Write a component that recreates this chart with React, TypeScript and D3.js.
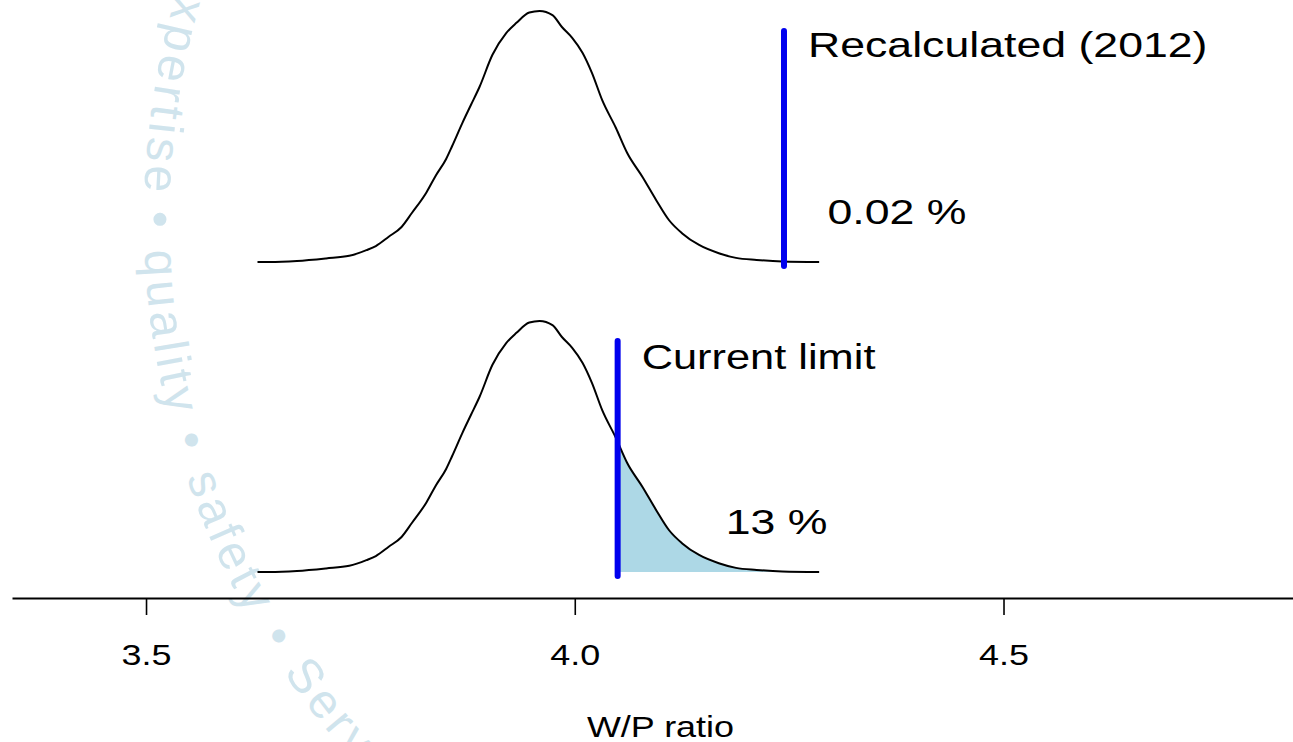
import React, { useEffect, useRef } from 'react';
import * as d3 from 'd3';

// W/P ratio grid of the kernel density estimate
const ratio = [
  3.630, 3.644, 3.676, 3.710, 3.737, 3.757, 3.768, 3.783, 3.798, 3.810,
  3.827, 3.838, 3.850, 3.857, 3.869, 3.879, 3.889, 3.904, 3.920, 3.932,
  3.947, 3.959, 3.974, 3.985, 3.997, 4.009, 4.020, 4.032, 4.048, 4.061,
  4.079, 4.095, 4.110, 4.125, 4.145, 4.168, 4.188, 4.212, 4.242, 4.285,
];

// Estimated density at each grid point
const density = [
  0.00, 0.00, 0.02, 0.07, 0.12, 0.23, 0.31, 0.49, 0.68, 0.95,
  1.35, 1.68, 2.00, 2.25, 2.70, 3.05, 3.40, 4.02, 4.44, 4.64,
  4.84, 4.87, 4.79, 4.56, 4.35, 4.06, 3.67, 3.14, 2.60, 2.12,
  1.65, 1.20, 0.81, 0.56, 0.33, 0.17, 0.08, 0.04, 0.01, 0.00,
];

const tickValues = [3.5, 4.0, 4.5];
const limitValues = [4.244, 4.05];
const limitLabels = ['Recalculated (2012)', 'Current limit'];
const exceedLabels = ['0.02 %', '13 %'];
const shadeTail = [false, true];

const W = 1293;
const H = 742;
const SX = 1.24; // horizontal stretch of the text glyphs
const FONT = "'Liberation Sans', Arial, Helvetica, sans-serif";

const x = d3.scaleLinear().domain([3.3437, 4.8376]).range([12, 1293]);
const densMax = 4.87;
const panelBase = [262, 572];
const panelHeight = 251;

const points = ratio.map((r, i) => ({ r, d: density[i] }));

// Watermark seal text on a circular arc
const seal = { cx: 950, cy: 219, r: 806 };
const sealStart = 200;
const sealEnd = 110;
const sealWords: [string, number, 'middle' | 'start'][] = [
  ['expertise', 190.0, 'middle'],
  ['•', 179.8, 'middle'],
  ['quality', 171.7, 'middle'],
  ['•', 163.6, 'middle'],
  ['safety', 155.8, 'middle'],
  ['•', 148.0, 'middle'],
  ['Service', 145.8, 'start'],
];

function sealPath() {
  const p = d3.path();
  const a0 = (sealStart * Math.PI) / 180;
  const a1 = (sealEnd * Math.PI) / 180;
  p.moveTo(seal.cx + seal.r * Math.cos(a0), seal.cy + seal.r * Math.sin(a0));
  p.arc(seal.cx, seal.cy, seal.r, a0, a1, true);
  return p.toString();
}

function StretchText({ x: tx, y: ty, anchor, size, children }: any) {
  return (
    <text
      transform={`translate(${tx},${ty}) scale(${SX},1)`}
      textAnchor={anchor}
      fontFamily={FONT}
      fontSize={size}
      fill="#000"
    >
      {children}
    </text>
  );
}

export default function App() {
  const axisRef = useRef<SVGGElement>(null);

  useEffect(() => {
    if (!axisRef.current) return;
    const g = d3.select(axisRef.current);
    g.selectAll('*').remove();
    g.call(
      d3
        .axisBottom(x)
        .tickValues(tickValues)
        .tickSize(17)
        .tickSizeOuter(0)
        .tickFormat(d3.format('.1f') as any)
    );
    g.select('.domain').attr('stroke', '#000').attr('stroke-width', 2);
    g.selectAll('.tick line').attr('stroke', '#000').attr('stroke-width', 1.6);
    g.selectAll('.tick text')
      .attr('y', null)
      .attr('dy', null)
      .attr('x', null)
      .attr('transform', `translate(0,67) scale(${SX},1)`)
      .attr('font-size', 29)
      .attr('font-family', FONT)
      .attr('fill', '#000')
      .attr('text-anchor', 'middle');
  }, []);

  const arcD = sealPath();
  const offsetAt = (deg: number) => ((sealStart - deg) * Math.PI * seal.r) / 180;

  return (
    <svg
      width={W}
      height={H}
      viewBox={`0 0 ${W} ${H}`}
      style={{ position: 'absolute', left: 0, top: 0, display: 'block', background: '#fff' }}
    >
      <defs>
        <path id="seal-arc" d={arcD} />
        <clipPath id="tail-clip">
          <rect x={x(limitValues[1])} y={0} width={W} height={H} />
        </clipPath>
      </defs>

      <g fill="#d0e4ed" fontFamily={FONT} fontSize={48} letterSpacing={4.5}>
        {sealWords.map(([w, deg, anchor], i) => (
          <text key={i} textAnchor={anchor}>
            <textPath href="#seal-arc" startOffset={offsetAt(deg)}>
              {w}
            </textPath>
          </text>
        ))}
      </g>

      {panelBase.map((base, pi) => {
        const y = d3.scaleLinear().domain([0, densMax]).range([base, base - panelHeight]);
        const line = d3
          .line<{ r: number; d: number }>()
          .curve(d3.curveMonotoneX)
          .x((p) => x(p.r))
          .y((p) => y(p.d));
        const area = d3
          .area<{ r: number; d: number }>()
          .curve(d3.curveMonotoneX)
          .x((p) => x(p.r))
          .y0(y(0))
          .y1((p) => y(p.d));
        const lx = x(limitValues[pi]);
        return (
          <g key={pi}>
            {shadeTail[pi] && (
              <path d={area(points) || ''} fill="#add8e6" stroke="none" clipPath="url(#tail-clip)" />
            )}
            <path d={line(points) || ''} fill="none" stroke="#000" strokeWidth={2} strokeLinejoin="round" />
            <line
              x1={lx}
              x2={lx}
              y1={y(-0.08)}
              y2={y(4.48)}
              stroke="#0000ee"
              strokeWidth={6}
              strokeLinecap="round"
            />
            <StretchText x={lx + 24} y={y(4.48) + 26 + (pi === 1 ? 2 : 0)} anchor="start" size={pi === 1 ? 35 : 36}>
              {limitLabels[pi]}
            </StretchText>
            <StretchText
              x={pi === 0 ? lx + 113 : lx + 159}
              y={base - 38}
              anchor="middle"
              size={36}
            >
              {exceedLabels[pi]}
            </StretchText>
          </g>
        );
      })}

      <g ref={axisRef} transform="translate(0,598)" />
      <StretchText x={660.5} y={737} anchor="middle" size={29}>
        W/P ratio
      </StretchText>
    </svg>
  );
}
